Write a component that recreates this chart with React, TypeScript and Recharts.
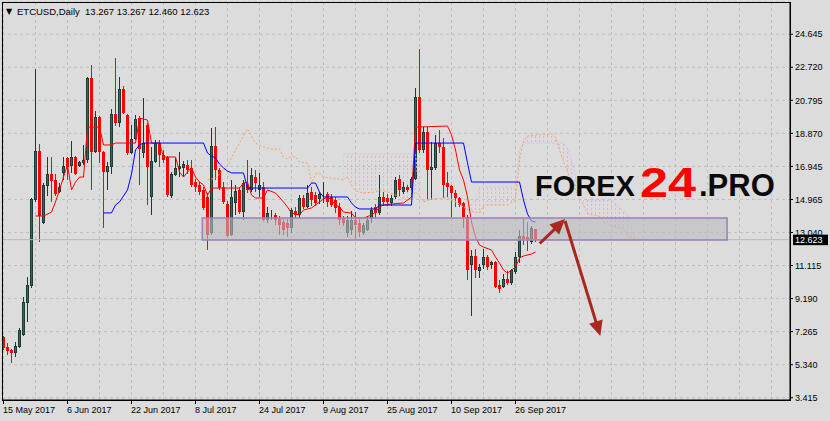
import React from 'react';
import {
  ComposedChart, Bar, Line, Area, XAxis, YAxis, CartesianGrid, ReferenceArea, ReferenceLine,
} from 'recharts';

// ETCUSD daily candles (bar index 0 = 15 May 2017)
const open = [
  6.95, 6.37, 6.19, 6.02, 6.37, 7.07, 8.93, 9.92, 14.93, 17.79,
  13.59, 15.75, 16.45, 16.10, 15.40, 16.51, 17.38, 16.91, 17.44, 16.91,
  17.09, 17.26, 22.04, 17.73, 19.77, 17.73, 16.56, 16.86, 19.94, 19.42,
  21.40, 19.88, 17.67, 18.49, 19.71, 17.67, 19.30, 15.11, 17.15, 18.25,
  17.55, 17.44, 15.17, 16.39, 16.74, 16.80, 16.97, 16.80, 15.98, 15.81,
  15.52, 15.11, 13.01, 18.08, 16.68, 15.69, 14.70, 12.89, 14.76, 15.52,
  14.23, 15.81, 15.52, 16.27, 15.52, 15.69, 13.77, 14.06, 14.06, 13.89,
  13.65, 13.59, 13.30, 14.29, 14.06, 15.05, 14.52, 15.40, 15.22, 14.99,
  15.10, 15.29, 15.11, 14.93, 14.52, 13.89, 13.01, 13.19, 13.77, 13.59,
  13.01, 13.19, 13.89, 14.52, 14.17, 15.11, 15.05, 14.76, 15.11, 16.15,
  15.40, 15.69, 15.63, 16.15, 20.93, 17.85, 18.89, 16.68, 16.80, 18.25,
  18.02, 15.92, 15.75, 15.34, 15.05, 14.76, 13.94, 11.14, 11.67, 10.79,
  11.14, 11.61, 11.14, 11.32, 9.98, 9.86, 10.33, 10.10, 10.74, 11.61,
  12.83, 12.78, 12.49, 13.267,
];
const high = [
  7.00, 6.60, 6.25, 6.66, 7.48, 9.28, 10.45, 15.05, 22.56, 18.19,
  15.92, 17.44, 17.44, 16.45, 15.92, 17.44, 17.44, 18.37, 17.50, 17.20,
  18.14, 22.10, 22.80, 20.12, 19.80, 17.80, 17.15, 20.23, 23.21, 22.10,
  21.57, 19.94, 19.30, 19.88, 19.80, 20.87, 19.40, 18.02, 18.43, 18.43,
  17.85, 17.50, 16.56, 17.38, 17.73, 17.20, 17.26, 17.26, 16.15, 16.00,
  15.70, 15.34, 19.13, 19.18, 16.80, 16.00, 14.90, 16.10, 15.81, 15.70,
  16.10, 17.26, 16.80, 16.68, 16.50, 16.00, 14.50, 14.35, 14.20, 14.00,
  13.80, 13.80, 14.47, 14.50, 15.20, 15.20, 15.81, 15.70, 15.40, 15.40,
  15.98, 15.40, 15.30, 15.10, 14.76, 14.00, 14.00, 14.30, 14.23, 13.80,
  13.60, 14.00, 14.50, 14.70, 16.39, 15.40, 15.30, 15.20, 16.30, 16.40,
  16.00, 15.80, 16.30, 21.46, 23.73, 19.18, 19.18, 18.31, 18.70, 19.01,
  18.54, 16.56, 15.80, 15.50, 15.10, 14.80, 14.06, 12.02, 12.10, 11.20,
  12.10, 11.70, 11.40, 11.40, 10.27, 10.60, 10.80, 10.90, 11.90, 13.19,
  13.83, 13.65, 13.42, 13.267,
];
const low = [
  6.20, 5.90, 5.44, 5.79, 6.31, 7.01, 7.82, 9.81, 14.82, 12.49,
  13.53, 15.17, 14.82, 15.17, 15.34, 16.10, 16.10, 16.51, 16.40, 16.85,
  16.97, 17.09, 15.52, 17.70, 17.09, 13.30, 15.52, 16.45, 19.24, 19.18,
  19.94, 17.55, 17.60, 18.40, 15.81, 17.38, 14.64, 14.06, 17.09, 16.86,
  17.09, 15.11, 15.05, 16.33, 16.27, 16.27, 16.45, 15.69, 15.40, 15.22,
  14.35, 12.02, 12.90, 16.10, 15.50, 14.70, 12.78, 12.83, 14.06, 14.10,
  13.77, 15.34, 15.40, 15.40, 15.11, 13.70, 13.60, 13.77, 13.48, 12.89,
  12.90, 12.78, 13.00, 13.90, 13.90, 14.40, 14.47, 14.60, 14.60, 14.70,
  14.76, 14.50, 14.50, 14.20, 13.48, 13.40, 12.78, 12.90, 12.60, 12.80,
  12.90, 13.10, 13.60, 13.90, 14.06, 14.60, 14.60, 14.60, 15.00, 15.10,
  15.30, 15.40, 15.50, 16.10, 17.67, 17.70, 14.93, 14.93, 16.70, 17.67,
  15.05, 15.11, 13.94, 14.52, 14.50, 13.30, 10.27, 8.17, 10.39, 10.39,
  10.90, 10.85, 10.90, 9.80, 9.51, 9.80, 10.00, 10.00, 10.60, 11.26,
  12.31, 11.96, 12.35, 12.460,
];
const close = [
  6.31, 6.13, 6.02, 6.43, 7.36, 8.99, 9.98, 14.99, 17.79, 14.00,
  15.81, 16.45, 16.04, 15.29, 15.69, 16.91, 16.86, 17.44, 16.45, 17.15,
  17.26, 22.04, 17.73, 19.77, 17.73, 16.56, 16.91, 19.94, 19.42, 21.40,
  20.00, 17.67, 18.49, 19.65, 17.90, 18.25, 16.86, 17.20, 18.25, 17.55,
  17.26, 15.22, 16.45, 16.80, 16.91, 17.03, 16.68, 15.81, 15.69, 15.40,
  14.47, 12.89, 18.08, 16.68, 15.63, 14.82, 12.83, 15.11, 15.46, 14.23,
  15.92, 15.52, 16.39, 15.92, 15.81, 13.77, 14.17, 14.10, 13.77, 13.48,
  13.19, 13.30, 14.35, 14.06, 15.05, 14.52, 15.34, 14.93, 14.76, 15.29,
  15.16, 14.82, 14.64, 14.47, 13.77, 13.59, 13.77, 13.77, 13.48, 13.07,
  13.48, 13.77, 14.35, 14.17, 15.11, 14.82, 14.82, 15.05, 16.10, 15.52,
  15.69, 15.52, 16.15, 20.93, 17.85, 18.89, 16.68, 16.86, 18.25, 18.02,
  15.81, 15.69, 15.34, 15.05, 14.64, 13.94, 10.85, 11.67, 10.85, 11.03,
  11.61, 11.03, 11.32, 9.86, 9.75, 10.33, 10.10, 10.85, 11.61, 12.83,
  12.66, 12.66, 13.30, 12.623,
];

// Ichimoku lines as [bar, price] pairs
const tenkan: [number, number][] = [
  [8, 14.0], [10, 14.0], [12, 14.23], [13, 14.82], [14, 15.52], [15, 16.27], [16, 16.97], [17, 15.52],
  [18, 15.98], [19, 16.27], [20, 16.27], [21, 19.18], [24, 19.18], [25, 18.14], [27, 18.14], [28, 18.25],
  [33, 18.25], [34, 19.71], [36, 19.59], [37, 18.25], [39, 18.25], [40, 17.44], [43, 17.44], [44, 16.56],
  [45, 16.27], [46, 16.56], [47, 16.8], [48, 16.27], [49, 15.98], [50, 15.81], [51, 15.22], [52, 15.63],
  [59, 15.63], [60, 15.92], [61, 15.98], [62, 15.22], [63, 15.05], [65, 15.05], [66, 15.52], [68, 15.34],
  [70, 14.82], [71, 14.52], [72, 14.17], [74, 14.06], [75, 14.35], [77, 14.47], [78, 14.64], [80, 14.99],
  [81, 15.11], [82, 14.93], [83, 14.64], [84, 14.53], [85, 14.23], [87, 14.17], [88, 13.88], [90, 13.88],
  [92, 14.06], [93, 14.23], [94, 14.53], [95, 14.64], [97, 14.7], [100, 14.76], [101, 14.93], [102, 15.11],
  [103, 19.18], [111, 19.24], [112, 18.72], [113, 17.85], [114, 16.68], [115, 16.1], [116, 15.11], [117, 13.65],
  [118, 12.78], [119, 12.31], [120, 12.19], [122, 12.02], [123, 11.61], [124, 11.26], [125, 10.85], [126, 10.68],
  [127, 10.85], [128, 11.03], [129, 11.55], [130, 11.67], [132, 11.79], [133, 11.9],
];
const kijun: [number, number][] = [
  [25, 14.18], [27, 14.18], [28, 14.64], [29, 14.82], [30, 15.17], [31, 15.52], [32, 16.45], [33, 17.85],
  [34, 18.14], [35, 18.25], [50, 18.25], [51, 17.67], [52, 17.5], [53, 17.38], [54, 17.03], [55, 16.8],
  [56, 16.62], [57, 16.51], [60, 16.51], [61, 15.63], [76, 15.63], [77, 15.92], [78, 15.92], [79, 15.4],
  [80, 15.11], [86, 15.11], [87, 14.76], [88, 14.52], [89, 14.41], [93, 14.41], [94, 14.64], [102, 14.64],
  [103, 18.25], [115, 18.25], [116, 17.09], [117, 15.98], [129, 15.98], [130, 14.93], [131, 14.12], [132, 13.71],
  [133, 13.65],
];
const spanIdx = [
  51, 53, 56, 58, 61, 62, 63, 65, 67, 69, 70, 71, 72, 73, 74, 76, 77, 78, 79, 80, 82, 84,
  85, 86, 87, 88, 90, 93, 94, 96, 98, 100, 101, 102, 103, 104, 105, 107, 111, 113, 116, 118,
  119, 120, 126, 128, 129, 130, 131, 133, 137, 138, 139, 140, 141, 142, 143, 144, 145, 146,
  149, 150, 152, 155, 156, 158,
];
const spanA = [
  16.1, 16.21, 16.91, 17.85, 19.07, 18.66, 18.25, 18.02, 17.9, 17.9, 17.44, 17.32, 17.5, 17.44, 17.15, 17.09, 15.92, 16.45, 16.51, 16.27, 16.21, 16.15,
  16.1, 16.27, 15.81, 15.46, 15.34, 15.4, 15.52, 15.4, 15.22, 15.05, 14.87, 15.05, 15.4, 15.17, 14.82, 14.99, 15.05, 14.82, 14.35, 14.23,
  14.17, 14.64, 14.64, 14.93, 17.26, 18.37, 18.66, 18.72, 18.78, 18.6, 17.85, 17.2, 16.56, 16.04, 15.52, 15.05, 14.64, 14.12,
  14.0, 13.65, 13.42, 13.3, 12.83, 12.66,
];
const spanB = [
  null, null, null, null, null, null, null, null, null, null, null, null, null, null, null, null, null, null, null, null, null, null,
  17.61, 17.61, 17.61, 17.61, 17.61, 17.61, 17.61, 17.61, 17.61, 17.61, 17.61, 17.61, 17.61, 15.05, 14.9, 14.99, 15.05, 14.85, 14.4, 14.93,
  15.69, 15.69, 15.69, 15.69, 17.85, 18.25, 18.25, 18.25, 18.25, 18.25, 18.25, 18.25, 17.9, 17.26, 16.3, 15.22, 15.0, 14.93,
  14.93, 14.93, 14.93, 14.3, 14.06, 12.6,
];

const gridIdx = [0, 8, 16, 24, 32, 40, 48, 56, 64, 72, 80, 88, 96, 104, 112, 120, 128, 136, 144, 152, 160, 168, 176, 184, 192];
const xTickIdx = [0, 16, 32, 48, 64, 80, 96, 112, 128];
const xTickLabels = ['15 May 2017', '6 Jun 2017', '22 Jun 2017', '8 Jul 2017', '24 Jul 2017', '9 Aug 2017', '25 Aug 2017', '10 Sep 2017', '26 Sep 2017'];
const yTicks = [3.415, 5.34, 7.265, 9.19, 11.115, 13.04, 14.965, 16.89, 18.815, 20.74, 22.665, 24.59];
const yTickLabels = ['3.415', '5.340', '7.265', '9.190', '11.115', '13.040', '14.965', '16.945', '18.870', '20.795', '22.720', '24.645'];

const lastPrice = 12.623;
const zone = { from: 49.7, to: 180.9, low: 12.6, high: 13.88 };
const arrowUp = [{ x: 134.05, y: 12.4 }, { x: 140.4, y: 13.82 }];
const arrowDown = [{ x: 140.4, y: 13.71 }, { x: 149.2, y: 7.01 }];

const FONT = '"Liberation Sans", Arial, sans-serif';
const BG = '#dcdcdc';
const BULL = '#2f6b59';
const BULL_EDGE = '#1c3b33';
const BEAR = '#ff0000';
const ARROW = '#a8281e';

const candles = open.map((o, i) => ({ i, o, h: high[i], l: low[i], c: close[i], range: [low[i], high[i]] }));
const tenkanData = tenkan.map(([i, v]) => ({ i, v }));
const kijunData = kijun.map(([i, v]) => ({ i, v }));
const spanData = spanIdx.map((i, k) => ({ i, a: spanA[k], b: spanB[k] }));
const cloudData = spanData.filter((d) => d.b != null).map((d) => ({ i: d.i, band: [d.b, d.a] }));

const Candle = (props: any) => {
  const { x, y, width, height, payload } = props;
  if (!payload || !height) return null;
  const { o, h, l, c } = payload;
  const k = height / (h - l);
  const cx = Math.floor(x + width / 2) + 0.5;
  const yOf = (v: number) => y + (h - v) * k;
  const top = Math.round(yOf(Math.max(o, c)));
  const bot = Math.round(yOf(Math.min(o, c)));
  const bodyH = Math.max(bot - top, 1);
  if (c >= o) {
    return (
      <g shapeRendering="crispEdges">
        <line x1={cx} x2={cx} y1={y} y2={y + height} stroke={BULL_EDGE} />
        <rect x={cx - 1} y={top + 0.5} width={2} height={Math.max(bodyH - 1, 0)} fill={BULL} stroke={BULL_EDGE} strokeWidth={1} />
      </g>
    );
  }
  return (
    <g shapeRendering="crispEdges">
      <line x1={cx} x2={cx} y1={y} y2={y + height} stroke={BEAR} />
      <rect x={cx - 1.5} y={top} width={3} height={bodyH} fill={BEAR} />
    </g>
  );
};

const XTick = (props: any) => {
  const { x, y, payload } = props;
  const k = xTickIdx.indexOf(payload.value);
  if (k < 0) return null;
  const px = Math.floor(x) + 0.5;
  return (
    <g>
      <line x1={px} x2={px} y1={y} y2={y + 4} stroke="#000" />
      <text x={px - 0.5} y={y + 13} fontSize={9} fontFamily={FONT} fill="#000" textAnchor="start">
        {xTickLabels[k]}
      </text>
    </g>
  );
};

// MT4-style bid tag that sits over the right scale, as in the screenshot
const PriceTag = (props: any) => {
  const vb = props.viewBox;
  if (!vb) return null;
  const x = vb.x + vb.width + 3;
  const y = vb.y;
  return (
    <g>
      <rect x={x} y={y - 5} width={35} height={10.5} fill="#000" />
      <text x={x + 2} y={y + 3.5} fontSize={9} fontFamily={FONT} fill="#fff">{lastPrice.toFixed(3)}</text>
    </g>
  );
};

const Arrow = (props: any) => {
  const { x1, y1, x2, y2 } = props;
  if ([x1, y1, x2, y2].some((v) => v == null || isNaN(v))) return null;
  const dx = x2 - x1;
  const dy = y2 - y1;
  const len = Math.hypot(dx, dy);
  const ux = dx / len;
  const uy = dy / len;
  const head = 15;
  const half = 7;
  const bx = x2 - ux * head;
  const by = y2 - uy * head;
  return (
    <g>
      <line x1={x1} y1={y1} x2={bx + ux} y2={by + uy} stroke={ARROW} strokeWidth={3} />
      <polygon points={`${x2},${y2} ${bx - uy * half},${by + ux * half} ${bx + uy * half},${by - ux * half}`} fill={ARROW} />
    </g>
  );
};

export default function App() {
  return (
    <div style={{ position: 'absolute', left: 0, top: 0, width: 830, height: 421, background: BG, overflow: 'hidden' }}>
      <svg width={0} height={0} style={{ position: 'absolute' }}>
        <defs>
          <pattern id="cloudHatch" patternUnits="userSpaceOnUse" x={3} y={0} width={4} height={4}>
            <line x1={0.5} y1={0} x2={0.5} y2={2} stroke="#d8b8d8" strokeWidth={1} />
          </pattern>
        </defs>
      </svg>
      <ComposedChart width={830} height={421} data={candles} margin={{ top: 2, right: 0, bottom: 0, left: 2 }}>
        <CartesianGrid stroke="#c0c0c0" strokeDasharray="3 3" />
        <XAxis
          dataKey="i"
          type="number"
          domain={[-0.375, 196.625]}
          allowDataOverflow
          ticks={gridIdx}
          interval={0}
          tick={<XTick />}
          tickLine={false}
          tickSize={0}
          tickMargin={0}
          height={21}
          axisLine={{ stroke: '#000' }}
        />
        <YAxis
          orientation="right"
          type="number"
          domain={[3.281, 26.468]}
          allowDataOverflow
          ticks={yTicks}
          interval={0}
          tickFormatter={(v: number) => yTickLabels[yTicks.indexOf(v)]}
          width={40}
          tickSize={3}
          tickMargin={2}
          tick={{ fontSize: 9, fill: '#000', fontFamily: FONT }}
          axisLine={{ stroke: '#000' }}
          tickLine={{ stroke: '#000' }}
        />
        <Area data={cloudData} dataKey="band" type="linear" fill="url(#cloudHatch)" fillOpacity={1} stroke="none" isAnimationActive={false} />
        <Line data={spanData} dataKey="a" type="linear" stroke="#f4a460" strokeDasharray="2 2" strokeWidth={1} dot={false} isAnimationActive={false} />
        <Line data={spanData} dataKey="b" type="linear" stroke="#d8bfd8" strokeDasharray="2 2" strokeWidth={1} dot={false} isAnimationActive={false} />
        <ReferenceLine y={lastPrice} stroke="#b8b8b8" strokeWidth={1} label={<PriceTag />} />
        <Bar dataKey="range" barSize={3} shape={<Candle />} isAnimationActive={false} />
        <Line data={tenkanData} dataKey="v" type="linear" stroke="#ff0000" strokeWidth={1} dot={false} isAnimationActive={false} />
        <Line data={kijunData} dataKey="v" type="linear" stroke="#0000ff" strokeWidth={1} dot={false} isAnimationActive={false} />
        <ReferenceArea
          x1={zone.from}
          x2={zone.to}
          y1={zone.low}
          y2={zone.high}
          fill="rgb(186,186,192)"
          fillOpacity={0.6}
          stroke="#9b80b8"
          strokeWidth={1.5}
          ifOverflow="visible"
          zIndex={700}
        />
        <ReferenceLine segment={arrowUp} shape={Arrow} ifOverflow="visible" zIndex={800} />
        <ReferenceLine segment={arrowDown} shape={Arrow} ifOverflow="visible" zIndex={800} />
      </ComposedChart>
      <svg width={830} height={421} style={{ position: 'absolute', left: 0, top: 0, pointerEvents: 'none' }}>
        <rect x={2.5} y={2.5} width={788} height={398} fill="none" stroke="#000" />
        <text x={6} y={14} fontSize={8} fontFamily="DejaVu Sans" fill="#000">▼</text>
        <text x={17} y={14.5} fontSize={9.5} fontFamily={FONT} fill="#000" style={{ whiteSpace: 'pre' }}>
          {'ETCUSD,Daily  13.267 13.267 12.460 12.623'}
        </text>
        <text y={196} fontWeight="bold" fontFamily={FONT} fill="#0a0a0a">
          <tspan x={535} fontSize={29}>FOREX</tspan>
          <tspan x={640} y={197} fontSize={42} fill="#ff0000" textLength={56} lengthAdjust="spacingAndGlyphs">24</tspan>
          <tspan x={699} y={196} fontSize={31}>.PRO</tspan>
        </text>
      </svg>
    </div>
  );
}
